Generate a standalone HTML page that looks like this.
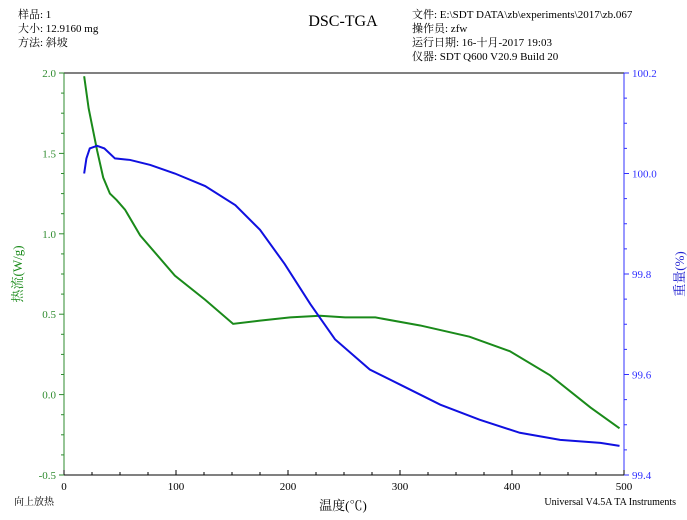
<!DOCTYPE html>
<html><head><meta charset="utf-8"><style>
body{margin:0;background:#fff;}
svg{font-family:"Liberation Serif","Noto Serif CJK SC","Noto Sans CJK SC",serif;}
</style></head><body>
<svg id="chart" width="687" height="515" xmlns="http://www.w3.org/2000/svg">
<g font-size="11" fill="#000">
<text x="18" y="18">样品: 1</text>
<text x="18" y="32">大小: 12.9160 mg</text>
<text x="18" y="46">方法: 斜坡</text>
<text x="412" y="18">文件: E:\SDT DATA\zb\experiments\2017\zb.067</text>
<text x="412" y="32">操作员: zfw</text>
<text x="412" y="46">运行日期: 16-十月-2017 19:03</text>
<text x="412" y="60">仪器: SDT Q600 V20.9 Build 20</text>
</g>
<text x="343" y="26" font-size="16" text-anchor="middle">DSC-TGA</text>
<g id="axes"></g>
<g id="series"></g>
<text x="14" y="505" font-size="10">向上放热</text>
<text x="343" y="510" font-size="13" text-anchor="middle">温度(℃)</text>
<text x="676" y="505" font-size="10" text-anchor="end">Universal V4.5A TA Instruments</text>
<text transform="translate(22,274) rotate(-90)" font-size="13" fill="#1a8a1a" text-anchor="middle">热流(W/g)</text>
<text transform="translate(684,274) rotate(-90)" font-size="13" fill="#2020d0" text-anchor="middle">重量(%)</text>
</svg>
<script>
const dscTemp=[18,22,29.5,35,41,47,54.5,68,99,126,151,175,202,228.6,251,278,318,362,398,434,470,496];
const dscHeat=[1.98,1.78,1.52,1.35,1.25,1.21,1.15,0.99,0.74,0.59,0.44,0.46,0.48,0.49,0.48,0.48,0.43,0.36,0.27,0.12,-0.08,-0.21];
const tgaTemp=[18,20,23,29.5,36,45.5,59,77,99,126,153,175,197,220,242,273,300,336,371,407,443,479,496];
const tgaWeight=[100.0,100.03,100.05,100.055,100.05,100.03,100.027,100.017,100.0,99.975,99.937,99.888,99.82,99.74,99.67,99.61,99.58,99.54,99.51,99.484,99.47,99.464,99.458];
const xTicks=[0,100,200,300,400,500];
const leftTicks=[-0.5,0.0,0.5,1.0,1.5,2.0];
const rightTicks=[99.4,99.6,99.8,100.0,100.2];
const L=64,R=624,T=73,B=475;
const xs=v=>L+(v/500)*(R-L);
const yl=v=>B-(v+0.5)/2.5*(B-T);
const yr=v=>B-(v-99.4)/0.8*(B-T);
const NS="http://www.w3.org/2000/svg";
const ax=document.getElementById('axes'),se=document.getElementById('series');
function mk(tag,at,parent){const e=document.createElementNS(NS,tag);for(const k in at)e.setAttribute(k,at[k]);parent.appendChild(e);return e;}
let e;
e=mk('line',{x1:L,y1:T,x2:R,y2:T,stroke:'#000'},ax);


e=mk('line',{x1:L,y1:B,x2:R,y2:B,stroke:'#000'},ax);


e=mk('line',{x1:L,y1:T,x2:L,y2:B,stroke:'#2e8b2e'},ax);


e=mk('line',{x1:R,y1:T,x2:R,y2:B,stroke:'#3030ff'},ax);


for(let v=0;v<=500;v+=25){const x=xs(v);mk('line',{x1:x,y1:B,x2:x,y2:B-(v%100?3:5),stroke:'#000'},ax);}
xTicks.forEach(v=>{const t=mk('text',{x:xs(v),y:B+15,'font-size':11,'text-anchor':'middle'},ax);t.textContent=v;

});
for(let v=-0.5;v<=2.0001;v+=0.125){const y=yl(v);mk('line',{x1:L,y1:y,x2:L-(Math.abs(v*2-Math.round(v*2))<1e-6?5:3),y2:y,stroke:'#2e8b2e'},ax);}
leftTicks.forEach(v=>{const t=mk('text',{x:L-8,y:yl(v)+4,'font-size':11,'text-anchor':'end',fill:'#2e8b2e'},ax);t.textContent=v.toFixed(1);

});
for(let v=99.4;v<=100.2001;v+=0.05){const y=yr(v);mk('line',{x1:R,y1:y,x2:R+(Math.abs(v*5-Math.round(v*5))<1e-6?5:3),y2:y,stroke:'#3030ff'},ax);}
rightTicks.forEach(v=>{const t=mk('text',{x:R+8,y:yr(v)+4,'font-size':11,fill:'#3030ff'},ax);t.textContent=v.toFixed(1);

});
e=mk('polyline',{points:dscTemp.map((t,i)=>xs(t)+','+yl(dscHeat[i])).join(' '),fill:'none',stroke:'#1a8a1a','stroke-width':2},se);


e=mk('polyline',{points:tgaTemp.map((t,i)=>xs(t)+','+yr(tgaWeight[i])).join(' '),fill:'none',stroke:'#1010e0','stroke-width':2},se);


</script>
</body></html>
